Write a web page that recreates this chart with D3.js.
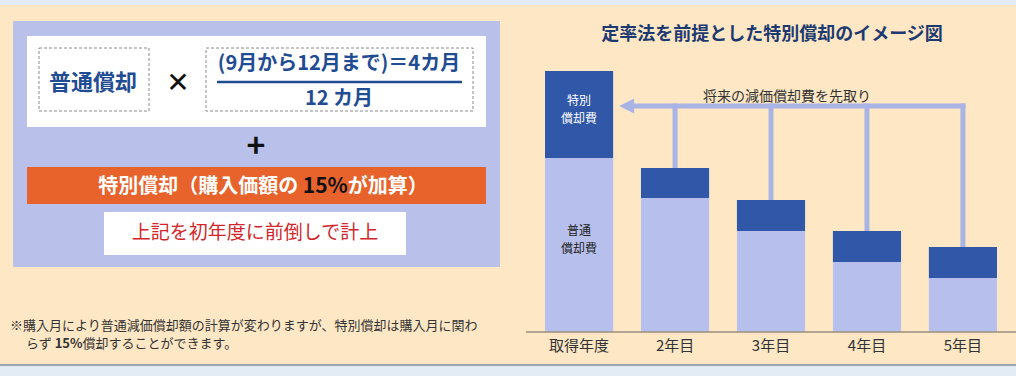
<!DOCTYPE html>
<html lang="ja">
<head>
<meta charset="UTF-8">
<title>定率法を前提とした特別償却のイメージ図</title>
<script src="https://cdnjs.cloudflare.com/ajax/libs/d3/7.8.5/d3.min.js"></script>
<style>
  body { margin: 0; padding: 0; background: #e3ecf5; }
  svg { display: block; font-family: "Noto Sans CJK JP", "Noto Sans", sans-serif; }
</style>
</head>
<body>
<div id="chart"></div>
<script>
// categories and stacked values (pixel-ish units)
const years = ["取得年度", "2年目", "3年目", "4年目", "5年目"];
const normalDep = [174, 134, 101, 70, 54];   // 普通償却費
const specialDep = [87, 30, 31, 31, 31];     // 特別償却費 (dark block)

const width = 1016, height = 376;

const svg = d3.select("#chart").append("svg")
    .attr("width", width)
    .attr("height", height);

// backgrounds
svg.append("rect").attr("width", width).attr("height", height).attr("fill", "#e3ecf5");
svg.append("rect").attr("x", 0).attr("y", 5).attr("width", width).attr("height", 360).attr("fill", "#fde7c5");
svg.append("rect").attr("x", 0).attr("y", 364).attr("width", width).attr("height", 2).attr("fill", "#9aa3b0");

// ---------- left panel: formula ----------
const left = svg.append("g");
left.append("rect").attr("x", 13).attr("y", 21).attr("width", 487).attr("height", 246).attr("fill", "#b9c1ea");
left.append("rect").attr("x", 27).attr("y", 36).attr("width", 459).attr("height", 91).attr("fill", "#ffffff");

left.selectAll("rect.dash")
  .data([[39, 48, 110, 63], [206, 48, 267, 63]])
  .join("rect")
    .attr("class", "dash")
    .attr("x", d => d[0]).attr("y", d => d[1])
    .attr("width", d => d[2]).attr("height", d => d[3])
    .attr("fill", "none")
    .attr("stroke", "#8a8a8a")
    .attr("stroke-width", 1)
    .attr("stroke-dasharray", "3,2");

left.append("text").attr("x", 93).attr("y", 90).attr("text-anchor", "middle")
    .attr("font-size", 22).attr("font-weight", "bold").attr("fill", "#1f4c92")
    .text("普通償却");
left.append("text").attr("x", 178).attr("y", 92).attr("text-anchor", "middle")
    .attr("font-size", 28).attr("font-weight", "bold").attr("fill", "#111")
    .attr("font-family", "\"DejaVu Sans\", sans-serif")
    .text("✕");
left.append("text").attr("x", 339).attr("y", 70).attr("text-anchor", "middle")
    .attr("font-size", 20).attr("font-weight", "bold").attr("fill", "#1f4c92")
    .text("(9月から12月まで)＝4カ月");
left.append("line").attr("x1", 217).attr("x2", 462).attr("y1", 82).attr("y2", 82)
    .attr("stroke", "#1f4c92").attr("stroke-width", 2.5);
left.append("text").attr("x", 339).attr("y", 105).attr("text-anchor", "middle")
    .attr("font-size", 20).attr("font-weight", "bold").attr("fill", "#1f4c92")
    .text("12 カ月");

left.append("text").attr("x", 256).attr("y", 157).attr("text-anchor", "middle")
    .attr("font-size", 32).attr("font-weight", "bold").attr("fill", "#111")
    .text("+");

left.append("rect").attr("x", 27).attr("y", 167).attr("width", 459).attr("height", 37).attr("fill", "#e8632b");
const ot = left.append("text").attr("x", 263).attr("y", 193).attr("text-anchor", "middle")
    .attr("font-size", 20).attr("font-weight", "bold").attr("fill", "#ffffff");
ot.append("tspan").text("特別償却（購入価額の ");
ot.append("tspan").attr("fill", "#111").attr("font-size", 21).text("15%");
ot.append("tspan").text("が加算）");

left.append("rect").attr("x", 104).attr("y", 212).attr("width", 302).attr("height", 43).attr("fill", "#ffffff");
left.append("text").attr("x", 255).attr("y", 239).attr("text-anchor", "middle")
    .attr("font-size", 19).attr("fill", "#d3262b")
    .text("上記を初年度に前倒しで計上");

const note = left.append("text").attr("font-size", 13).attr("fill", "#333");
note.append("tspan").attr("x", 10).attr("y", 330)
    .text("※購入月により普通減価償却額の計算が変わりますが、特別償却は購入月に関わ");
const n2 = note.append("tspan").attr("x", 26).attr("y", 348);
n2.append("tspan").text("らず ");
n2.append("tspan").attr("font-weight", "bold").text("15%");
n2.append("tspan").text("償却することができます。");

// ---------- right panel: bar chart ----------
svg.append("text").attr("x", 772).attr("y", 40).attr("text-anchor", "middle")
    .attr("font-size", 18).attr("font-weight", "bold").attr("fill", "#1d3a70")
    .text("定率法を前提とした特別償却のイメージ図");

const x = d3.scaleBand().domain(years).range([545, 997]).paddingInner(0.29).paddingOuter(0);
const y = d3.scaleLinear().domain([0, 270]).range([332, 62]);

const rows = years.map((c, i) => ({ cat: c, normal: normalDep[i], special: specialDep[i] }));

const bars = svg.append("g");
bars.selectAll("rect.normal")
  .data(rows)
  .join("rect")
    .attr("class", "normal")
    .attr("x", d => x(d.cat))
    .attr("width", x.bandwidth())
    .attr("y", d => y(d.normal))
    .attr("height", d => y(0) - y(d.normal))
    .attr("fill", "#b7c0ec");
bars.selectAll("rect.special")
  .data(rows)
  .join("rect")
    .attr("class", "special")
    .attr("x", d => x(d.cat))
    .attr("width", x.bandwidth())
    .attr("y", d => y(d.normal + d.special))
    .attr("height", d => y(d.normal) - y(d.normal + d.special))
    .attr("fill", "#3158a8");

// x axis baseline + labels
const xAxis = svg.append("g").attr("transform", `translate(0,${y(0)})`)
    .call(d3.axisBottom(x).tickSize(0).tickPadding(8));
xAxis.select(".domain").remove();
xAxis.selectAll("text").attr("font-size", 15).attr("fill", "#333")
    .attr("font-family", "\"Noto Sans CJK JP\", sans-serif");
svg.append("line").attr("x1", 526).attr("x2", 1016).attr("y1", y(0)).attr("y2", y(0))
    .attr("stroke", "#9b8f7e").attr("stroke-width", 1.5);

// labels inside the first bar
const first = rows[0];
const cx0 = x(first.cat) + x.bandwidth() / 2;
const lab1 = svg.append("text").attr("text-anchor", "middle").attr("font-size", 12).attr("fill", "#ffffff");
lab1.append("tspan").attr("x", cx0).attr("y", 105).text("特別");
lab1.append("tspan").attr("x", cx0).attr("y", 123).text("償却費");
const lab2 = svg.append("text").attr("text-anchor", "middle").attr("font-size", 12).attr("fill", "#222");
lab2.append("tspan").attr("x", cx0).attr("y", 235).text("普通");
lab2.append("tspan").attr("x", cx0).attr("y", 253).text("償却費");

// "future depreciation brought forward" arrow
const arrowY = 106;
const arrowColor = "#a9b3e4";
const tipX = x(first.cat) + x.bandwidth() + 6;
const lastCx = x(years[years.length - 1]) + x.bandwidth() / 2;
const arr = svg.append("g");
arr.append("line").attr("x1", tipX + 10).attr("x2", lastCx + 2.5)
    .attr("y1", arrowY).attr("y2", arrowY)
    .attr("stroke", arrowColor).attr("stroke-width", 5);
arr.append("path")
    .attr("d", `M${tipX},${arrowY} L${tipX + 15},${arrowY - 7.5} L${tipX + 15},${arrowY + 7.5} Z`)
    .attr("fill", arrowColor);
arr.selectAll("line.drop")
  .data(rows.slice(1))
  .join("line")
    .attr("class", "drop")
    .attr("x1", d => x(d.cat) + x.bandwidth() / 2)
    .attr("x2", d => x(d.cat) + x.bandwidth() / 2)
    .attr("y1", arrowY - 2.5)
    .attr("y2", d => y(d.normal + d.special))
    .attr("stroke", arrowColor).attr("stroke-width", 5);
svg.append("text").attr("x", 787).attr("y", 101).attr("text-anchor", "middle")
    .attr("font-size", 14).attr("fill", "#333")
    .text("将来の減価償却費を先取り");
</script>
</body>
</html>
